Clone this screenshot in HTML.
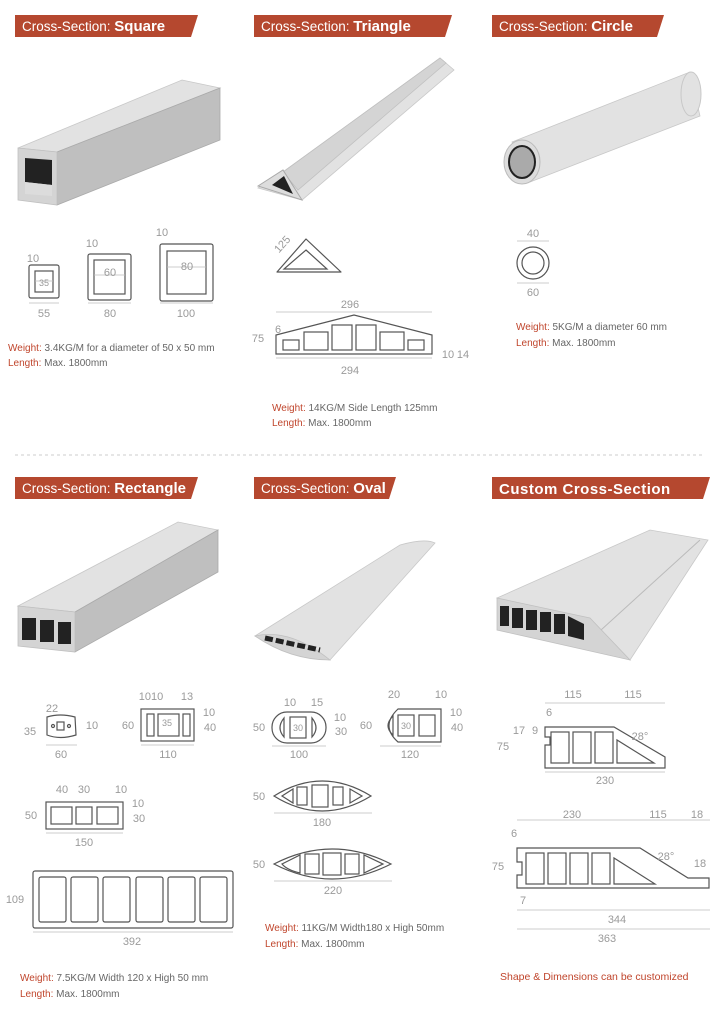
<!DOCTYPE html>
<html><head><meta charset="utf-8"><style>
html,body{margin:0;padding:0;background:#fff;}
svg{display:block}
text{font-family:"Liberation Sans",sans-serif;}
.d{fill:#9a9a9a;font-size:11px;text-anchor:middle}
.l{fill:none;stroke:#555;stroke-width:1.2}
.g{stroke:#bbb;stroke-width:0.8;fill:none}
.w{fill:#c0452c;font-size:10px}
.t{fill:#666;font-size:10px}
.hd{fill:#fff;font-size:13.5px}
.hb{font-weight:bold;font-size:15px}
.f1{fill:#e2e2e2;stroke:#c8c8c8;stroke-width:.8}
.f2{fill:#d4d4d4;stroke:#c0c0c0;stroke-width:.8}
.f3{fill:#bfbfbf;stroke:#aaa;stroke-width:.8}
</style></head><body>
<svg width="716" height="1024" viewBox="0 0 716 1024" xmlns="http://www.w3.org/2000/svg">
<polygon points="15,15 198,15 191,37 15,37" fill="#b5482f"/>
<text x="22" y="31" class="hd">Cross-Section: <tspan class="hb">Square</tspan></text>
<polygon points="254,15 452,15 445,37 254,37" fill="#b5482f"/>
<text x="261" y="31" class="hd">Cross-Section: <tspan class="hb">Triangle</tspan></text>
<polygon points="492,15 664,15 657,37 492,37" fill="#b5482f"/>
<text x="499" y="31" class="hd">Cross-Section: <tspan class="hb">Circle</tspan></text>
<polygon points="15,477 198,477 191,499 15,499" fill="#b5482f"/>
<text x="22" y="493" class="hd">Cross-Section: <tspan class="hb">Rectangle</tspan></text>
<polygon points="254,477 396,477 389,499 254,499" fill="#b5482f"/>
<text x="261" y="493" class="hd">Cross-Section: <tspan class="hb">Oval</tspan></text>
<polygon points="492,477 710,477 703,499 492,499" fill="#b5482f"/>
<text x="499" y="494" class="hd hb" style="letter-spacing:.5px">Custom Cross-Section</text>
<line x1="15" y1="455" x2="702" y2="455" stroke="#ccc" stroke-dasharray="3,3"/>

<polygon class="f1" points="18,148 182,80 220,88 57,152"/>
<polygon class="f3" points="57,152 220,88 220,140 57,205"/>
<polygon class="f2" points="18,148 57,152 57,205 18,200"/>
<polygon fill="#222" points="25,158 52,160 52,185 25,182"/>
<polygon fill="#dcdcdc" points="25,182 52,185 52,196 25,194"/>
<polygon class="f1" points="258,188 283,172 440,58 454,70 302,200"/>
<polygon class="f2" points="283,172 440,58 446,63 298,190"/>
<polygon fill="#ddd" stroke="#aaa" points="258,186 283,170 302,200"/>
<polygon fill="#222" points="272,185 284,176 293,194"/>
<polygon class="f1" points="512,142 690,72 700,116 530,182"/>
<ellipse cx="691" cy="94" rx="10" ry="22" fill="#e2e2e2" stroke="#c8c8c8"/>
<ellipse cx="522" cy="162" rx="18" ry="22" fill="#ddd" stroke="#bbb"/>
<ellipse cx="522" cy="162" rx="13" ry="16" fill="#aaa" stroke="#222" stroke-width="2"/>

<rect class="l" x="29" y="265" width="30" height="33" rx="2"/><rect class="l" x="35" y="271" width="18" height="21"/>
<line class="g" x1="35" y1="281" x2="53" y2="281"/><text class="d" x="44" y="286" style="font-size:9px">35</text>
<rect class="l" x="88" y="254" width="43" height="46" rx="2"/><rect class="l" x="94" y="260" width="31" height="34"/>
<line class="g" x1="94" y1="275" x2="125" y2="275"/><text class="d" x="110" y="276">60</text>
<rect class="l" x="160" y="244" width="53" height="57" rx="2"/><rect class="l" x="167" y="251" width="39" height="43"/>
<line class="g" x1="167" y1="267" x2="206" y2="267"/><text class="d" x="187" y="270">80</text>
<text class="d" x="33" y="262">10</text><text class="d" x="92" y="247">10</text><text class="d" x="162" y="236">10</text>
<line class="g" x1="29" y1="303" x2="59" y2="303"/><line class="g" x1="88" y1="303" x2="131" y2="303"/><line class="g" x1="160" y1="303" x2="213" y2="303"/>
<text class="d" x="44" y="317">55</text><text class="d" x="110" y="317">80</text><text class="d" x="186" y="317">100</text>
<text x="8" y="351" class="w">Weight: <tspan class="t">3.4KG/M for a diameter of 50 x 50 mm</tspan></text>
<text x="8" y="366" class="w">Length: <tspan class="t">Max. 1800mm</tspan></text>

<polygon class="l" points="306,239 341,272 277,272" stroke-linejoin="round"/>
<polygon class="l" points="306,250 327,269 284,269"/>
<text class="d" x="282" y="248" transform="rotate(-48 282 244)">125</text>
<line class="g" x1="276" y1="312" x2="432" y2="312"/><text class="d" x="350" y="308">296</text>
<polygon class="l" points="276,341 276,335 354,315 432,335 432,354 276,354"/>
<rect class="l" x="283" y="340" width="16" height="10"/><rect class="l" x="304" y="332" width="24" height="18"/>
<rect class="l" x="332" y="325" width="20" height="25"/><rect class="l" x="356" y="325" width="20" height="25"/>
<rect class="l" x="380" y="332" width="24" height="18"/><rect class="l" x="408" y="340" width="16" height="10"/>
<line class="g" x1="276" y1="358" x2="432" y2="358"/><text class="d" x="350" y="374">294</text>
<text class="d" x="258" y="342">75</text><text class="d" x="278" y="333">6</text>
<text class="d" x="448" y="358">10</text><text class="d" x="463" y="358">14</text>
<text x="272" y="411" class="w">Weight: <tspan class="t">14KG/M Side Length 125mm</tspan></text>
<text x="272" y="426" class="w">Length: <tspan class="t">Max. 1800mm</tspan></text>

<circle class="l" cx="533" cy="263" r="16"/><circle class="l" cx="533" cy="263" r="11"/>
<line class="g" x1="517" y1="241" x2="549" y2="241"/><line class="g" x1="517" y1="283" x2="549" y2="283"/>
<text class="d" x="533" y="237">40</text><text class="d" x="533" y="296">60</text>
<text x="516" y="330" class="w">Weight: <tspan class="t">5KG/M a diameter 60 mm</tspan></text>
<text x="516" y="346" class="w">Length: <tspan class="t">Max. 1800mm</tspan></text>

<polygon class="f1" points="18,606 178,522 218,530 75,612"/>
<polygon class="f3" points="75,612 218,530 218,572 75,652"/>
<polygon class="f2" points="18,606 75,612 75,652 18,646"/>
<rect x="22" y="618" width="14" height="22" fill="#222"/><rect x="40" y="620" width="14" height="22" fill="#222"/><rect x="58" y="622" width="13" height="22" fill="#222"/>
<path class="f1" d="M255,636 L400,545 Q425,538 435,543 L330,660 Q290,655 255,636Z"/>
<path class="f2" d="M255,636 Q290,628 330,660 Q290,660 255,636Z"/>
<path d="M265,638 L320,650" stroke="#222" stroke-width="5" stroke-dasharray="8,3"/>
<polygon class="f1" points="497,598 650,530 708,540 630,660 590,640"/>
<line x1="590" y1="640" x2="700" y2="540" stroke="#bbb"/>
<polygon class="f2" points="497,598 590,618 630,660 497,630"/>
<g fill="#222"><rect x="500" y="606" width="9" height="20"/><rect x="512" y="608" width="11" height="20"/><rect x="526" y="610" width="11" height="20"/><rect x="540" y="612" width="11" height="20"/><rect x="554" y="614" width="11" height="20"/><polygon points="568,616 584,624 584,640 568,636"/></g>

<path class="l" d="M47,717 Q60,713 75,717 L76,735 Q60,740 47,735Z"/>
<rect class="l" x="57" y="722" width="7" height="8"/><circle class="l" cx="53" cy="726" r="1.5"/><circle class="l" cx="69" cy="726" r="1.5"/>
<text class="d" x="52" y="712">22</text><text class="d" x="30" y="735">35</text><text class="d" x="92" y="729">10</text>
<line class="g" x1="46" y1="745" x2="77" y2="745"/><text class="d" x="61" y="758">60</text>
<rect class="l" x="141" y="709" width="53" height="32"/>
<rect class="l" x="147" y="714" width="7" height="22"/><rect class="l" x="158" y="714" width="21" height="22"/><rect class="l" x="183" y="714" width="7" height="22"/>
<text class="d" x="167" y="726" style="font-size:9px">35</text>
<text class="d" x="151" y="700">1010</text><text class="d" x="187" y="700">13</text><text class="d" x="128" y="729">60</text>
<text class="d" x="209" y="716">10</text><text class="d" x="210" y="731">40</text>
<line class="g" x1="141" y1="745" x2="194" y2="745"/><text class="d" x="168" y="758">110</text>
<rect class="l" x="46" y="802" width="77" height="27"/>
<rect class="l" x="51" y="807" width="21" height="17"/><rect class="l" x="76" y="807" width="16" height="17"/><rect class="l" x="97" y="807" width="21" height="17"/>
<text class="d" x="62" y="793">40</text><text class="d" x="84" y="793">30</text><text class="d" x="121" y="793">10</text>
<text class="d" x="31" y="819">50</text><text class="d" x="138" y="807">10</text><text class="d" x="139" y="822">30</text>
<line class="g" x1="46" y1="833" x2="123" y2="833"/><text class="d" x="84" y="846">150</text>
<rect class="l" x="33" y="871" width="200" height="57" rx="2"/>
<rect class="l" x="39" y="877" width="27" height="45" rx="2"/><rect class="l" x="71" y="877" width="27" height="45" rx="2"/><rect class="l" x="103" y="877" width="27" height="45" rx="2"/><rect class="l" x="136" y="877" width="27" height="45" rx="2"/><rect class="l" x="168" y="877" width="27" height="45" rx="2"/><rect class="l" x="200" y="877" width="27" height="45" rx="2"/>
<text class="d" x="15" y="903">109</text>
<line class="g" x1="33" y1="932" x2="233" y2="932"/><text class="d" x="132" y="945">392</text>
<text x="20" y="981" class="w">Weight: <tspan class="t">7.5KG/M Width 120 x High 50 mm</tspan></text>
<text x="20" y="997" class="w">Length: <tspan class="t">Max. 1800mm</tspan></text>

<rect class="l" x="272" y="712" width="54" height="31" rx="15"/>
<path class="l" d="M284,718 L284,737 Q276,728 284,718Z"/><rect class="l" x="290" y="717" width="16" height="21"/><path class="l" d="M312,718 L312,737 Q320,728 312,718Z"/>
<text class="d" x="298" y="731" style="font-size:9px">30</text>
<text class="d" x="290" y="706">10</text><text class="d" x="317" y="706">15</text><text class="d" x="259" y="731">50</text>
<text class="d" x="340" y="721">10</text><text class="d" x="341" y="735">30</text>
<line class="g" x1="272" y1="746" x2="326" y2="746"/><text class="d" x="299" y="758">100</text>
<path class="l" d="M398,709 L441,709 L441,742 L398,742 Q380,726 398,709Z"/>
<path class="l" d="M393,716 L393,735 Q383,726 393,716Z"/><rect class="l" x="398" y="715" width="16" height="21"/><rect class="l" x="419" y="715" width="16" height="21"/>
<text class="d" x="406" y="729" style="font-size:9px">30</text>
<text class="d" x="394" y="698">20</text><text class="d" x="441" y="698">10</text><text class="d" x="366" y="729">60</text>
<text class="d" x="456" y="716">10</text><text class="d" x="457" y="731">40</text>
<line class="g" x1="380" y1="746" x2="441" y2="746"/><text class="d" x="410" y="758">120</text>
<path class="l" d="M274,796 Q322,766 371,796 Q322,826 274,796Z"/>
<path class="l" d="M282,796 L293,789 L293,803Z"/><rect class="l" x="297" y="787" width="10" height="18"/><rect class="l" x="312" y="785" width="16" height="22"/><rect class="l" x="333" y="787" width="10" height="18"/><path class="l" d="M362,796 L350,789 L350,803Z"/>
<text class="d" x="259" y="800">50</text>
<line class="g" x1="274" y1="813" x2="372" y2="813"/><text class="d" x="322" y="826">180</text>
<path class="l" d="M274,864 Q332,834 391,864 Q332,894 274,864Z"/>
<path class="l" d="M282,864 L300,855 L300,873 Q287,870 282,864Z"/><rect class="l" x="305" y="854" width="14" height="20"/><rect class="l" x="323" y="853" width="18" height="22"/><rect class="l" x="345" y="854" width="14" height="20"/><path class="l" d="M383,864 L364,855 L364,873Z"/>
<text class="d" x="259" y="868">50</text>
<line class="g" x1="274" y1="881" x2="392" y2="881"/><text class="d" x="333" y="894">220</text>
<text x="265" y="931" class="w">Weight: <tspan class="t">11KG/M Width180 x High 50mm</tspan></text>
<text x="265" y="947" class="w">Length: <tspan class="t">Max. 1800mm</tspan></text>

<line class="g" x1="545" y1="703" x2="665" y2="703"/>
<text class="d" x="573" y="698">115</text><text class="d" x="633" y="698">115</text>
<text class="d" x="549" y="716">6</text><text class="d" x="519" y="734">17</text><text class="d" x="535" y="734">9</text><text class="d" x="503" y="750">75</text>
<path class="l" d="M545,727 L614,727 L665,757 L665,768 L545,768 L545,745 L550,745 L550,737 L545,737Z"/>
<rect class="l" x="551" y="732" width="18" height="31"/><rect class="l" x="573" y="732" width="18" height="31"/><rect class="l" x="595" y="732" width="18" height="31"/><path class="l" d="M617,740 L617,763 L654,763Z"/>
<text class="d" x="640" y="740">28°</text>
<line class="g" x1="545" y1="772" x2="665" y2="772"/><text class="d" x="605" y="784">230</text>
<line class="g" x1="517" y1="820" x2="710" y2="820"/>
<text class="d" x="572" y="818">230</text><text class="d" x="658" y="818">115</text><text class="d" x="697" y="818">18</text>
<text class="d" x="514" y="837">6</text><text class="d" x="498" y="870">75</text><text class="d" x="523" y="904">7</text>
<path class="l" d="M517,848 L640,848 L688,878 L709,878 L709,888 L517,888 L517,875 L522,875 L522,862 L517,862Z"/>
<rect class="l" x="526" y="853" width="18" height="31"/><rect class="l" x="548" y="853" width="18" height="31"/><rect class="l" x="570" y="853" width="18" height="31"/><rect class="l" x="592" y="853" width="18" height="31"/><path class="l" d="M614,858 L614,884 L655,884Z"/>
<text class="d" x="666" y="860">28°</text><text class="d" x="700" y="867">18</text>
<line class="g" x1="517" y1="910" x2="710" y2="910"/><text class="d" x="617" y="923">344</text>
<line class="g" x1="517" y1="929" x2="710" y2="929"/><text class="d" x="607" y="942">363</text>
<text x="500" y="980" class="w" style="font-size:10.5px">Shape &amp; Dimensions can be customized</text>
</svg>
</body></html>
